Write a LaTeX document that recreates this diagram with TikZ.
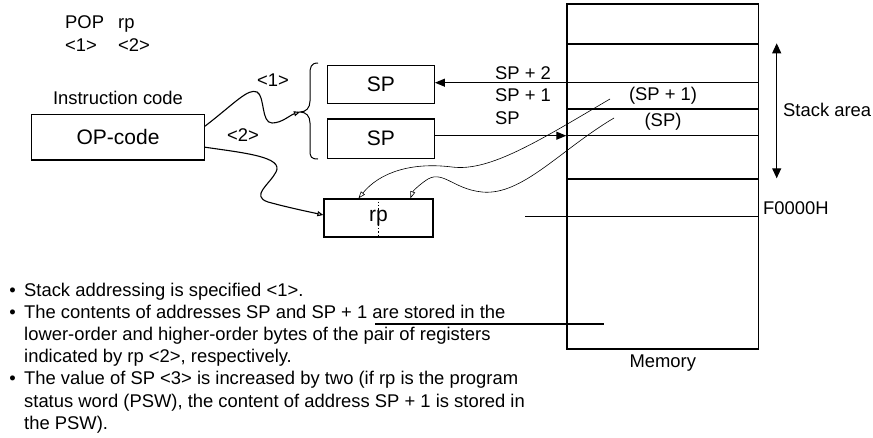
\documentclass[tikz,border=0pt]{standalone}
\usepackage{fontspec}
\setmainfont{Liberation Sans}
\usetikzlibrary{positioning,arrows.meta}

\begin{document}
\begin{tikzpicture}[x=1pt,y=-1pt,every node/.style={font=\fontsize{18.4}{22.2}\selectfont,inner sep=0pt},
    box/.style={draw,line width=1.3pt,minimum width=107pt,minimum height=38pt,font=\fontsize{21}{25}\selectfont},
    wire/.style={line width=1.1pt},
    thinwire/.style={line width=0.6pt,-{Triangle[open,length=7pt,width=5pt]}},
    tip/.style={-{Triangle[length=10pt,width=8pt]}}]
    \useasboundingbox (0,0) rectangle (873,437);
    % instruction
    \node[anchor=base west] (pop) at (65,28.3) {POP};
    \node[anchor=base west] (rpname) at (118,28.3) {rp};
    \node[anchor=base west] (n1) at (65,51.6) {<1>};
    \node[anchor=base west] (n2) at (118,51.6) {<2>};
    \node[box,minimum width=172.6pt,minimum height=45.7pt] (op) at (118,137.2) {OP-code};
    \node (opname) at (118,98) {Instruction code};
    % registers
    \node[box] (sp1) at (380.8,84.5) {SP};
    \node[box,minimum height=39.3pt] (sp2) at (380.8,138.7) {SP};
    \node[box,minimum width=109pt] (rp) at (378.5,218) {rp};
    \draw[dotted,line width=1.3pt] (rp.north) -- (rp.south);
    \coordinate (brace) at (300,112);
    \draw[line width=1pt] (318,63) .. controls (311,63) and (310,67) .. (310,74) -- (310,101)
      .. controls (310,108) and (306,112) .. (brace) .. controls (306,112) and (310,116) .. (310,123)
      -- (310,150) .. controls (310,157) and (311,159) .. (318,159);
    % memory
    \node[draw,line width=1.3pt,minimum width=191.7pt,minimum height=345pt] (mem) at (662.8,176.5) {};
    \foreach \ry in {44,82.7,109,135.7,179}
      \draw[line width=1.3pt] (mem.west |- 0,\ry) -- (mem.east |- 0,\ry);
    \coordinate (f0) at (525,216.7);
    \draw[line width=1.3pt] (f0) -- (f0 -| mem.east);
    \coordinate (lowa) at (375,324);
    \coordinate (lowb) at (604,324);
    \draw[line width=1.3pt] (lowa) -- (lowb);
    \node (hi) at (663,96) {(SP + 1)};
    \node (lo) at (663,122) {(SP)};
    \node (memname) at (662.8,363) {Memory};
    \node[anchor=west] (a2) at (495,72.7) {SP + 2};
    \node[anchor=west] (a1) at (495,95) {SP + 1};
    \node[anchor=west] (a0) at (495,118) {SP};
    \coordinate (stop) at (776.7,43.3);
    \coordinate (sbot) at (776.7,178.3);
    \draw[wire,{Triangle[length=10pt,width=9pt]}-{Triangle[length=10pt,width=9pt]}] (stop) -- (sbot);
    \node[anchor=west] (stack) at (783,110) {Stack area};
    \node[anchor=west] (addr) at (763,208) {F0000H};
    % arrows
    \draw[wire,tip] (mem.west |- 0,82.7) -- (sp1.east |- 0,82.7);
    \draw[wire,tip] (sp2.east |- 0,135.7) -- (mem.west |- 0,135.7);
    \draw[wire,-{Triangle[open,length=6pt,width=5pt]}] ([yshift=11pt]op.east) .. controls (235,103) and (248,88) .. (257,92)
      .. controls (265,96) and (261,123) .. (272,123) .. controls (282,123) and (290,115) .. (brace);
    \draw[wire,-{Triangle[open,length=6pt,width=5pt]}] ([yshift=-10pt]op.east) .. controls (245,153) and (284,157) .. (276,172)
      .. controls (270,184) and (250,196) .. (268,202) .. controls (290,208) and (310,212) .. ([yshift=3pt]rp.west);
    \node (c1) at (273,80) {<1>};
    \node (c2) at (243,135) {<2>};
    \draw[thinwire] (610,99) .. controls (540,140) and (490,172) .. (452,167)
      .. controls (412,162) and (380,172) .. ([xshift=-20pt]rp.north);
    \draw[thinwire] (614,118) .. controls (560,150) and (522,196) .. (482,192)
      .. controls (452,189) and (442,168) .. (425,181) .. controls (418,186) and (413,191) .. ([xshift=32pt]rp.north);
    % notes
    \node[anchor=base west,align=left] (note1) at (24,296) {\llap{\textbullet\hspace{8.5pt}}Stack addressing is specified <1>.};
    \node[anchor=base west,align=left] (note2) at (24,362.6) {\llap{\textbullet\hspace{8.5pt}}The contents of addresses SP and SP + 1 are stored in the\\
      lower-order and higher-order bytes of the pair of registers\\
      indicated by rp <2>, respectively.};
    \node[anchor=base west,align=left] (note3) at (24,429.2) {\llap{\textbullet\hspace{8.5pt}}The value of SP <3> is increased by two (if rp is the program\\
      status word (PSW), the content of address SP + 1 is stored in\\
      the PSW).};
  \end{tikzpicture}
\end{document}
